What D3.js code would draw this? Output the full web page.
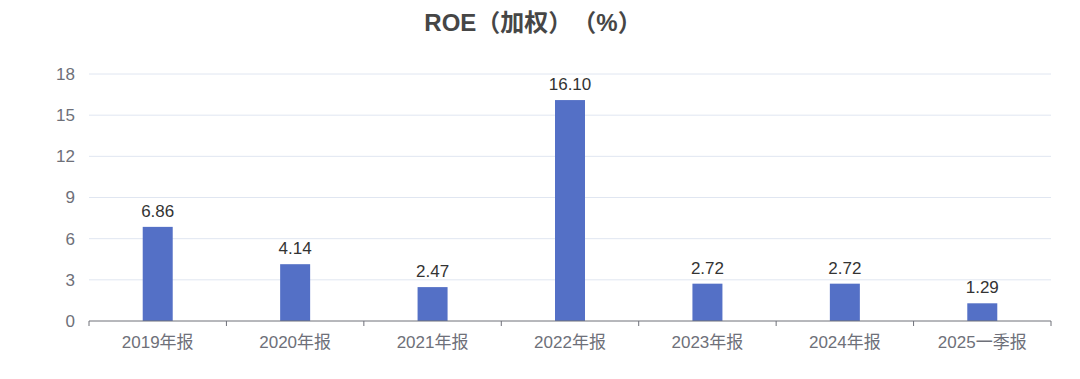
<!DOCTYPE html>
<html>
<head>
<meta charset="utf-8">
<script src="https://cdn.jsdelivr.net/npm/d3@7"></script>
<style>
  body { margin: 0; background: #fff; }
  svg { display: block; font-family: "Liberation Sans", "Noto Sans CJK SC", sans-serif; }
  .title { text-spacing-trim: space-all; }
</style>
</head>
<body>
<div id="chart"></div>
<script>
// data
var periods = ["2019年报", "2020年报", "2021年报", "2022年报", "2023年报", "2024年报", "2025一季报"];
var roe = [6.86, 4.14, 2.47, 16.10, 2.72, 2.72, 1.29];
var yTicks = [0, 3, 6, 9, 12, 15, 18];
var title = "ROE（加权）（%）";

var w = 1080, h = 379;
var mLeft = 89, mRight = 1051, mTop = 74, mBottom = 321;

var svg = d3.select("#chart").append("svg")
    .attr("width", w)
    .attr("height", h);

var x = d3.scaleBand().domain(periods).range([mLeft, mRight]).padding(0);
var y = d3.scaleLinear().domain([0, 18]).range([mBottom, mTop]);

// title
svg.append("text")
    .attr("class", "title")
    .attr("x", 533)
    .attr("y", 31)
    .attr("text-anchor", "middle")
    .style("font-size", "24px")
    .style("font-weight", "bold")
    .style("fill", "#464646")
    .text(title);

// gridlines + y labels
svg.append("g")
    .selectAll("line")
    .data(yTicks.filter(function (d) { return d > 0; }))
    .join("line")
    .attr("x1", mLeft).attr("x2", mRight)
    .attr("y1", function (d) { return y(d); })
    .attr("y2", function (d) { return y(d); })
    .style("stroke", "#e0e6f1")
    .style("stroke-width", 1);

svg.append("g")
    .selectAll("text")
    .data(yTicks)
    .join("text")
    .attr("x", mLeft - 14)
    .attr("y", function (d) { return y(d); })
    .attr("dy", "0.35em")
    .attr("text-anchor", "end")
    .style("font-size", "17px")
    .style("fill", "#6e7079")
    .text(function (d) { return d; });

// bars
var barW = 30;
svg.append("g")
    .selectAll("rect")
    .data(roe)
    .join("rect")
    .attr("x", function (d, i) { return x(periods[i]) + x.bandwidth() / 2 - barW / 2; })
    .attr("y", function (d) { return y(d); })
    .attr("width", barW)
    .attr("height", function (d) { return y(0) - y(d); })
    .style("fill", "#5470c6");

// value labels
svg.append("g")
    .selectAll("text")
    .data(roe)
    .join("text")
    .attr("x", function (d, i) { return x(periods[i]) + x.bandwidth() / 2; })
    .attr("y", function (d) { return y(d) - 10; })
    .attr("text-anchor", "middle")
    .style("font-size", "17px")
    .style("fill", "#333")
    .text(function (d) { return d.toFixed(2); });

// x axis with ticks on category boundaries
var xAxis = svg.append("g")
    .attr("transform", "translate(0," + mBottom + ")");
xAxis.append("line")
    .attr("x1", mLeft).attr("x2", mRight)
    .style("stroke", "#6e7079")
    .style("stroke-width", 1);
var bounds = periods.map(function (p) { return x(p); }).concat([mRight]);
xAxis.selectAll("line.tick")
    .data(bounds)
    .join("line")
    .attr("class", "tick")
    .attr("x1", function (d) { return d; })
    .attr("x2", function (d) { return d; })
    .attr("y1", 0).attr("y2", 5)
    .style("stroke", "#6e7079");
xAxis.selectAll("text")
    .data(periods)
    .join("text")
    .attr("x", function (d) { return x(d) + x.bandwidth() / 2; })
    .attr("y", 21)
    .attr("dy", "0.35em")
    .attr("text-anchor", "middle")
    .style("font-size", "17px")
    .style("fill", "#6e7079")
    .text(function (d) { return d; });
</script>
</body>
</html>
